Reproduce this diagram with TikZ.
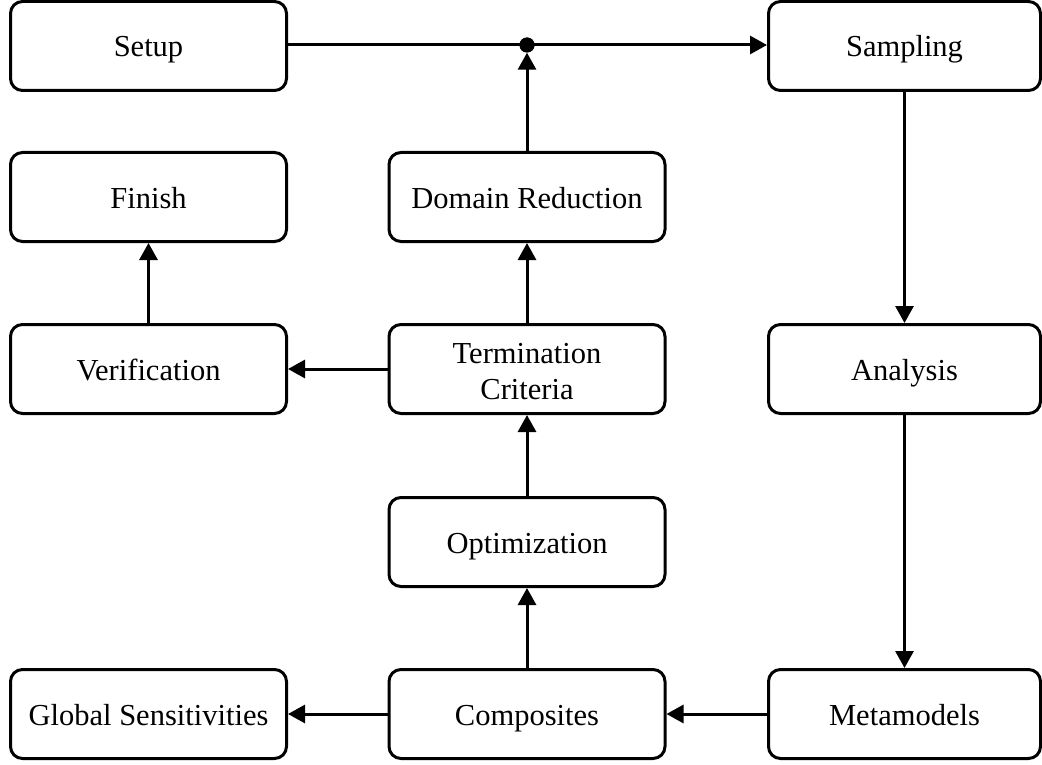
\documentclass[tikz,border=0pt]{standalone}
\usepackage{fontspec}
\setmainfont{Liberation Serif}
\usetikzlibrary{arrows.meta}
\begin{document}
\begin{tikzpicture}[x=1pt,y=-1pt,
  boxbase/.style={draw, line width=3pt, rounded corners=12pt, minimum width=276pt,
    minimum height=89pt, inner sep=0pt, align=center,
    font=\fontsize{30.5}{36}\selectfont},
  box/.style={boxbase, text height=29pt, text depth=7pt},
  rbox/.style={box, minimum width=272pt},
  conn/.style={line width=3pt, -{Triangle[length=17pt,width=18pt]}},
  junction/.style={circle, fill, inner sep=0pt, minimum size=15pt}
]
\useasboundingbox (0,0) rectangle (1042,765);
\node[box]  (setup)   at (148.5,46)  {Setup};
\node[rbox] (samp)    at (904.5,46)  {Sampling};
\node[box]  (finish)  at (148.5,197) {Finish};
\node[box]  (dom)     at (527,197)   {Domain Reduction};
\node[box]  (verif)   at (148.5,369) {Verification};
\node[boxbase] (term) at (527,369)   {\rule{0pt}{26pt}Termination\\Criteria};
\node[rbox] (anal)    at (904.5,369) {Analysis};
\node[box]  (opt)     at (527,542)   {Optimization};
\node[box]  (glob)    at (148.5,714) {Global Sensitivities};
\node[box]  (comp)    at (527,714)   {Composites};
\node[rbox] (meta)    at (904.5,714) {Metamodels};
\node[junction] (dot) at (527,45) {};

\draw[conn] (setup.east |- dot) -- (samp.west |- dot);
\node[junction] at (dot) {};
\draw[conn] (dom) -- (dot);
\draw[conn] (samp) -- (anal);
\draw[conn] (anal) -- (meta);
\draw[conn] (meta) -- (comp);
\draw[conn] (comp) -- (glob);
\draw[conn] (comp) -- (opt);
\draw[conn] (opt) -- (term);
\draw[conn] (term) -- (dom);
\draw[conn] (term) -- (verif);
\draw[conn] (verif) -- (finish);
\end{tikzpicture}
\end{document}
